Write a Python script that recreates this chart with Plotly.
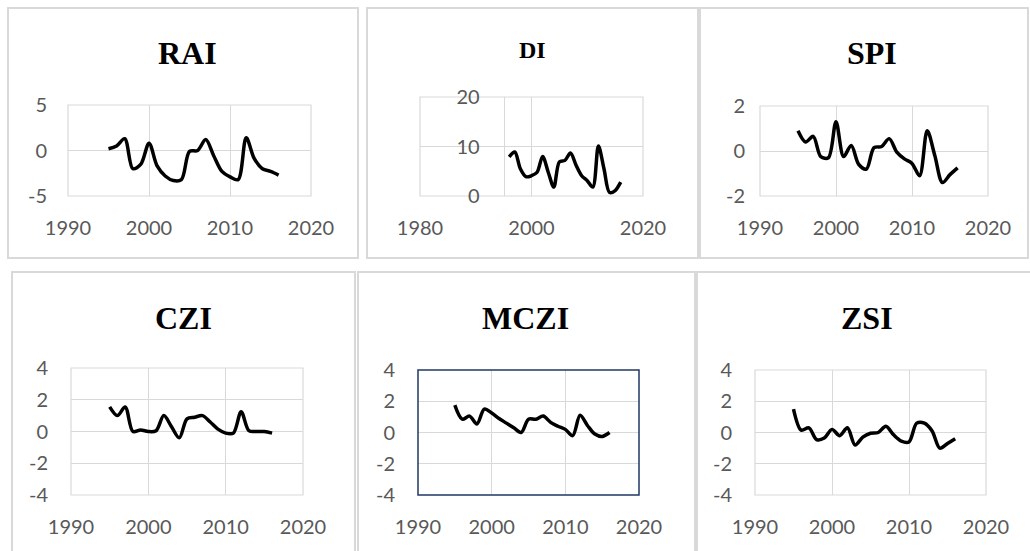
import plotly.graph_objects as go

# ---------------- data ----------------
years = list(range(1995, 2017))
years_di = list(range(1996, 2017))

rai = [0.2, 0.5, 1.3, -2.0, -1.5, 0.8, -1.7, -2.8, -3.3, -3.2, -0.1, 0.0, 1.2,
       -0.6, -2.3, -2.9, -3.2, 1.4, -0.9, -2.0, -2.3, -2.7]
di = [7.9, 8.9, 5.5, 3.9, 4.1, 4.8, 8.0, 4.8, 1.8, 6.9, 7.2, 8.7, 6.2, 4.1,
      3.1, 1.8, 10.1, 5.5, 0.7, 1.1, 2.8]
spi = [0.9, 0.4, 0.65, -0.25, -0.3, 1.3, -0.25, 0.25, -0.6, -0.8, 0.15, 0.2,
       0.55, -0.05, -0.35, -0.55, -1.1, 0.9, -0.2, -1.4, -1.05, -0.75]
czi = [1.55, 1.0, 1.55, 0.0, 0.1, 0.0, 0.05, 1.0, 0.3, -0.4, 0.8, 0.9, 1.0,
       0.6, 0.15, -0.1, -0.1, 1.25, 0.05, 0.0, 0.0, -0.1]
mczi = [1.75, 0.85, 1.05, 0.55, 1.5, 1.25, 0.9, 0.6, 0.3, 0.0, 0.85, 0.85,
        1.05, 0.65, 0.4, 0.2, -0.2, 1.1, 0.45, -0.1, -0.25, 0.0]
zsi = [1.5, 0.15, 0.3, -0.45, -0.35, 0.2, -0.2, 0.3, -0.8, -0.3, -0.05, 0.0,
       0.4, -0.15, -0.55, -0.6, 0.6, 0.6, 0.1, -1.0, -0.7, -0.4]

titles = ["RAI", "DI", "SPI", "CZI", "MCZI", "ZSI"]
series_x = [years, years_di, years, years, years, years]
series_y = [rai, di, spi, czi, mczi, zsi]
x_ranges = [[1990, 2020], [1980, 2020], [1990, 2020], [1990, 2020], [1990, 2020], [1990, 2020]]
x_dticks = [10, 20, 10, 10, 10, 10]
y_ranges = [[-5, 5], [0, 20], [-2, 2], [-4, 4], [-4, 4], [-4, 4]]
y_tickvals = [[-5, 0, 5], [0, 10, 20], [-2, 0, 2],
              [-4, -2, 0, 2, 4], [-4, -2, 0, 2, 4], [-4, -2, 0, 2, 4]]
y_ticktext = [["-5", "0", "5"], ["0", "10", "20"], ["-2", "0", "2"],
              ["-4", "-2", "0", "2", "4"], ["-4", "-2", "0", "2", "4"],
              ["-4", "-2", "0", "2", "4"]]

# ---------------- layout (pixels) ----------------
W, H = 1030, 551
plot_px = [(68, 105, 311, 196), (420, 97, 643, 196), (760, 106, 988, 196),
           (71, 368, 303, 495), (418, 370, 639, 495), (755, 370, 986, 495)]
box_px = [(8, 8, 358, 258), (367, 8, 698, 258), (700, 8, 1028, 258),
          (12, 272, 355, 560), (358, 272, 695, 560), (697, 272, 1040, 560)]
title_px = [(187, 53, 32), (532, 50, 24), (872, 53, 32),
            (183, 318, 32), (525, 318, 32), (867, 318, 32)]
ylab_standoff = [20, 20, 14, 22, 22, 22]


def fx(px):
    return px / W


def fy(py):
    return 1 - py / H


GRID = "#d9d9d9"
TICK_FONT = dict(family="Lato", size=20, color="#595959")

fig = go.Figure()
layout = dict(width=W, height=H,
              margin=dict(l=0, r=0, t=0, b=0, pad=0, autoexpand=False),
              paper_bgcolor="white", plot_bgcolor="white", showlegend=False)
shapes = []
annotations = []

for i in range(6):
    n = "" if i == 0 else str(i + 1)
    x0, y0, x1, y1 = plot_px[i]
    xdom = [fx(x0), fx(x1)]
    ydom = [fy(y1), fy(y0)]
    fig.add_trace(go.Scatter(
        x=series_x[i], y=series_y[i], mode="lines",
        line=dict(color="black", width=3.5, shape="spline", smoothing=0.9),
        xaxis="x" + n, yaxis="y" + n, hoverinfo="skip"))

    layout["xaxis" + n] = dict(
        domain=xdom, range=x_ranges[i], dtick=x_dticks[i], tick0=x_ranges[i][0],
        anchor="y" + n, showgrid=True, gridcolor=GRID, gridwidth=1,
        zeroline=False, showline=False, ticks="", tickfont=TICK_FONT,
        ticklabelstandoff=18, automargin=False, fixedrange=True)
    yax = dict(
        domain=ydom, range=y_ranges[i], tickmode="array",
        tickvals=y_tickvals[i], ticktext=y_ticktext[i],
        anchor="x" + n, showgrid=True, gridcolor=GRID, gridwidth=1,
        zeroline=False, showline=False, ticks="", tickfont=TICK_FONT,
        ticklabelstandoff=ylab_standoff[i], automargin=False, fixedrange=True)
    if titles[i] == "DI":
        # vertical axis crosses the category axis at the first data year
        xr = x_ranges[i]
        frac = (series_x[i][0] - 1 - xr[0]) / (xr[1] - xr[0])
        yax.update(anchor="free", position=xdom[0] + frac * (xdom[1] - xdom[0]),
                   showline=True, linecolor=GRID, linewidth=1)
    layout["yaxis" + n] = yax

    # plot-area outline
    if titles[i] == "MCZI":
        outline, ow, olayer = "#1f3864", 1.5, "above"
    else:
        outline, ow, olayer = GRID, 1.2, "below"
    shapes.append(dict(type="rect", xref="x" + n + " domain", yref="y" + n + " domain",
                       x0=0, x1=1, y0=0, y1=1, layer=olayer,
                       line=dict(color=outline, width=ow)))
    # chart box border
    bx0, by0, bx1, by1 = box_px[i]
    shapes.append(dict(type="rect", xref="paper", yref="paper",
                       x0=fx(bx0), x1=fx(bx1), y0=fy(by1), y1=fy(by0),
                       line=dict(color=GRID, width=2), layer="below"))
    tx, ty, ts = title_px[i]
    annotations.append(dict(text="<b>" + titles[i] + "</b>", xref="paper", yref="paper",
                            x=fx(tx), y=fy(ty), xanchor="center", yanchor="middle",
                            showarrow=False,
                            font=dict(family="Liberation Serif", size=ts, color="black")))

layout["shapes"] = shapes
layout["annotations"] = annotations
fig.update_layout(**layout)
fig.write_html("out.html", config={"displayModeBar": False},
               post_script="document.body.style.margin='0';document.body.style.overflow='hidden';")
